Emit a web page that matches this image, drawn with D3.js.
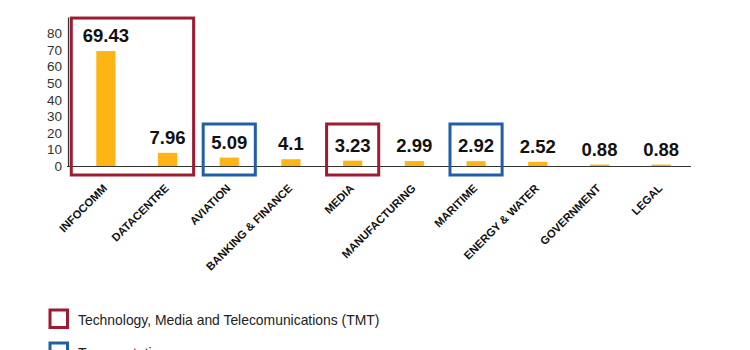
<!DOCTYPE html>
<html>
<head>
<meta charset="utf-8">
<script src="https://cdn.jsdelivr.net/npm/d3@7"></script>
<style>
  html, body { margin: 0; padding: 0; background: #fff; }
  svg { display: block; font-family: "Liberation Sans", Arial, Helvetica, sans-serif; }
</style>
</head>
<body>
<svg id="chart" width="750" height="350"></svg>
<script>
const categories = ["INFOCOMM", "DATACENTRE", "AVIATION", "BANKING & FINANCE", "MEDIA",
  "MANUFACTURING", "MARITIME", "ENERGY & WATER", "GOVERNMENT", "LEGAL"];
const values = [69.43, 7.96, 5.09, 4.1, 3.23, 2.99, 2.92, 2.52, 0.88, 0.88];
const valueLabels = ["69.43", "7.96", "5.09", "4.1", "3.23", "2.99", "2.92", "2.52", "0.88", "0.88"];
const yTicks = [0, 10, 20, 30, 40, 50, 60, 70, 80];
const groups = [
  { name: "TMT", members: ["INFOCOMM", "DATACENTRE"] },
  { name: "Transportation", members: ["AVIATION"] },
  { name: "TMT", members: ["MEDIA"] },
  { name: "Transportation", members: ["MARITIME"] }
];
const legendItems = ["Technology, Media and Telecomunications (TMT)", "Transportation"];
const legendKeys = ["TMT", "Transportation"];

const colors = { bar: "#FDB515", TMT: "#9E1B32", Transportation: "#1F5FA8", text: "#111", axis: "#333" };

const svg = d3.select("#chart");
const x = d3.scaleBand().domain(categories).range([75, 692]).paddingInner(0.69).paddingOuter(0.345);
const y = d3.scaleLinear().domain([0, 90]).range([166, 17]);

// bars
svg.append("g").selectAll("rect").data(categories).join("rect")
  .attr("x", (d) => x(d))
  .attr("width", x.bandwidth())
  .attr("y", (d, i) => y(values[i]))
  .attr("height", (d, i) => y(0) - y(values[i]))
  .attr("fill", colors.bar);

// value labels
svg.append("g").selectAll("text").data(categories).join("text")
  .attr("x", (d) => x(d) + x.bandwidth() / 2)
  .attr("y", (d, i) => y(values[i]) - 9)
  .attr("text-anchor", "middle")
  .attr("font-size", 18.5)
  .attr("font-weight", "bold")
  .attr("fill", colors.text)
  .text((d, i) => valueLabels[i]);

// y axis
const yAxis = d3.axisLeft(y).tickValues(yTicks).tickSize(0).tickPadding(6);
const gy = svg.append("g").attr("transform", "translate(68,0)").call(yAxis);
gy.select(".domain").attr("stroke", colors.axis).attr("stroke-width", 1.2);
gy.selectAll("text").attr("font-size", 13.5).attr("fill", colors.axis)
  .attr("font-family", "'Liberation Sans', Arial, sans-serif");

// baseline
svg.append("line")
  .attr("x1", 67).attr("x2", x.range()[1] - 1)
  .attr("y1", y(0) + 0.5).attr("y2", y(0) + 0.5)
  .attr("stroke", colors.axis).attr("stroke-width", 1.2);

// x labels
svg.append("g").selectAll("text").data(categories).join("text")
  .attr("transform", (d) => `translate(${x(d) + x.bandwidth() / 2 + 2},${y(0) + 23}) rotate(-45)`)
  .attr("text-anchor", "end")
  .attr("font-size", 11.2)
  .attr("font-weight", "bold")
  .attr("fill", colors.text)
  .text((d) => d);

// group boxes
const groupTop = (g) => Math.min(y(d3.max(g.members, (m) => values[categories.indexOf(m)])) - 33, y(0) - 42);
const groupLeft = (g) => x(g.members[0]) - (g.members.length > 1 ? 25 : 16.5);
const groupRight = (g) => x(g.members[g.members.length - 1]) + x.bandwidth() + 16.5;
svg.append("g").selectAll("rect").data(groups).join("rect")
  .attr("x", groupLeft)
  .attr("y", groupTop)
  .attr("width", (g) => groupRight(g) - groupLeft(g))
  .attr("height", (g) => (y(0) + 9) - groupTop(g))
  .attr("fill", "none")
  .attr("stroke", (g) => colors[g.name])
  .attr("stroke-width", 3);

// legend
const lg = svg.append("g").selectAll("g").data(legendItems).join("g")
  .attr("transform", (d, i) => `translate(50,${310 + i * 33})`);
lg.append("rect")
  .attr("width", 17.5).attr("height", 17.5)
  .attr("fill", "none")
  .attr("stroke", (d, i) => colors[legendKeys[i]])
  .attr("stroke-width", 3);
lg.append("text")
  .attr("x", 28).attr("y", 14.5)
  .attr("font-size", 13.9)
  .attr("fill", "#222")
  .text((d) => d);
</script>
</body>
</html>
